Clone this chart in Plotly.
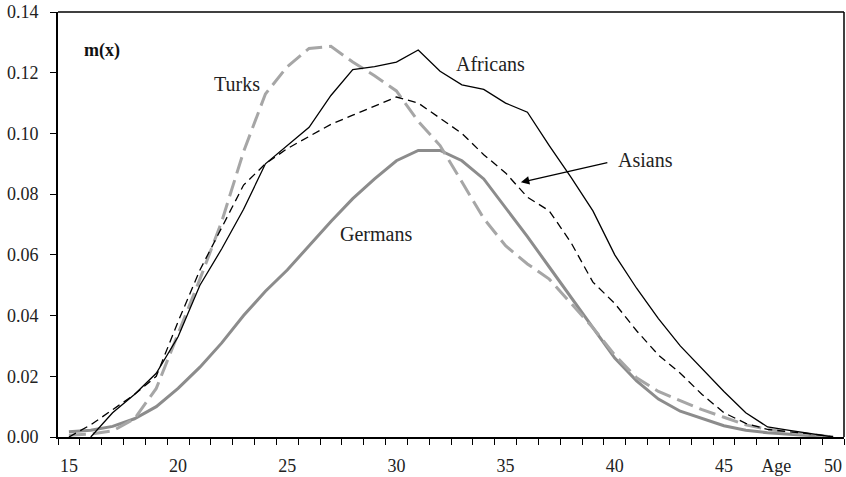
import plotly.graph_objects as go

ages = list(range(15, 51))

africans = [None, 0.000, 0.008, 0.014, 0.021, 0.033, 0.050, 0.062, 0.075, 0.090,
            0.096, 0.102, 0.1125, 0.121, 0.122, 0.1235, 0.1275, 0.1205, 0.116, 0.1145,
            0.110, 0.107, 0.096, 0.0855, 0.0745, 0.060, 0.049, 0.039, 0.030, 0.0225,
            0.015, 0.008, 0.0033, 0.0022, 0.0012, 0.000]

asians = [0.000, 0.004, 0.009, 0.014, 0.020, 0.038, 0.055, 0.069, 0.083, 0.090,
          0.095, 0.099, 0.103, 0.106, 0.109, 0.112, 0.110, 0.105, 0.100, 0.093,
          0.087, 0.079, 0.0745, 0.064, 0.051, 0.044, 0.035, 0.027, 0.021, 0.014,
          0.008, 0.0045, 0.0025, 0.0017, 0.001, 0.000]

germans = [0.0017, 0.0022, 0.0035, 0.006, 0.010, 0.016, 0.023, 0.031, 0.040, 0.048,
           0.055, 0.063, 0.071, 0.0785, 0.085, 0.091, 0.0944, 0.0944, 0.091, 0.085,
           0.0757, 0.066, 0.056, 0.046, 0.036, 0.026, 0.0185, 0.0125, 0.0085, 0.006,
           0.0037, 0.0022, 0.0014, 0.0009, 0.0005, 0.000]

turks = [0.0006, 0.001, 0.002, 0.006, 0.016, 0.034, 0.052, 0.071, 0.094, 0.113,
         0.122, 0.128, 0.1287, 0.1235, 0.119, 0.114, 0.104, 0.096, 0.084, 0.072,
         0.063, 0.057, 0.052, 0.044, 0.036, 0.027, 0.0195, 0.015, 0.012, 0.009,
         0.0065, 0.004, 0.0025, 0.0015, 0.0008, 0.000]

x_tick_vals = [15, 20, 25, 30, 35, 40, 45, 47.4, 50]
x_tick_text = ["15", "20", "25", "30", "35", "40", "45", "Age", "50"]
y_tick_vals = [0.00, 0.02, 0.04, 0.06, 0.08, 0.10, 0.12, 0.14]

FONT = "Liberation Serif"

fig = go.Figure()
fig.add_trace(go.Scatter(x=ages, y=germans, mode="lines", name="Germans",
                         line=dict(color="#8c8c8c", width=3)))
fig.add_trace(go.Scatter(x=ages, y=turks, mode="lines", name="Turks",
                         line=dict(color="#a6a6a6", width=3, dash="17px,7px")))
fig.add_trace(go.Scatter(x=ages, y=asians, mode="lines", name="Asians",
                         line=dict(color="black", width=1.3, dash="8px,5px")))
fig.add_trace(go.Scatter(x=ages, y=africans, mode="lines", name="Africans",
                         line=dict(color="black", width=1.3)))

fig.update_layout(
    width=846, height=477,
    margin=dict(l=58, r=2, t=12, b=40),
    paper_bgcolor="white", plot_bgcolor="white",
    showlegend=False,
    font=dict(family=FONT, size=18, color="#222222"),
    xaxis=dict(
        range=[14.5, 50.5], showgrid=False, zeroline=False, automargin=False,
        showline=True, linecolor="black", linewidth=2,
        tickmode="array", tickvals=x_tick_vals, ticktext=x_tick_text,
        ticks="", ticklabelstandoff=11,
        tickfont=dict(family=FONT, size=18, color="#222222"),
        minor=dict(tickvals=[v + 0.5 for v in range(14, 51)], ticks="outside",
                   ticklen=6, tickwidth=1, tickcolor="black"),
    ),
    yaxis=dict(
        range=[0, 0.14], showgrid=False, zeroline=False, automargin=False,
        showline=True, linecolor="black", linewidth=2,
        tickmode="array", tickvals=y_tick_vals, tickformat=".2f",
        ticks="outside", ticklen=6, tickwidth=1, tickcolor="black",
        ticklabelstandoff=8,
        tickfont=dict(family=FONT, size=18, color="#222222"),
    ),
    shapes=[
        dict(type="line", xref="paper", yref="paper", x0=0, x1=1, y0=1, y1=1,
             line=dict(color="black", width=1.5)),
        dict(type="line", xref="paper", yref="paper", x0=1, x1=1, y0=0, y1=1,
             line=dict(color="black", width=1.5)),
    ],
    annotations=[
        dict(x=16.5, y=0.1274, text="<b>m(x)</b>", showarrow=False,
             font=dict(family=FONT, size=18, color="#111111")),
        dict(x=22.69, y=0.1164, text="Turks", showarrow=False,
             font=dict(family=FONT, size=20, color="#222222")),
        dict(x=34.32, y=0.1230, text="Africans", showarrow=False,
             font=dict(family=FONT, size=20, color="#222222")),
        dict(x=29.08, y=0.0669, text="Germans", showarrow=False,
             font=dict(family=FONT, size=20, color="#222222")),
        dict(x=41.41, y=0.0911, text="Asians", showarrow=False,
             font=dict(family=FONT, size=20, color="#222222")),
        dict(x=35.70, y=0.0839, ax=39.73, ay=0.0905, xref="x", yref="y",
             axref="x", ayref="y", text="", showarrow=True,
             arrowhead=2, arrowsize=1.3, arrowwidth=1.3, arrowcolor="black"),
    ],
)

fig.write_html(
    "out.html",
    config={"displayModeBar": False},
    post_script="document.body.style.margin='0';document.body.style.overflow='hidden';",
)
